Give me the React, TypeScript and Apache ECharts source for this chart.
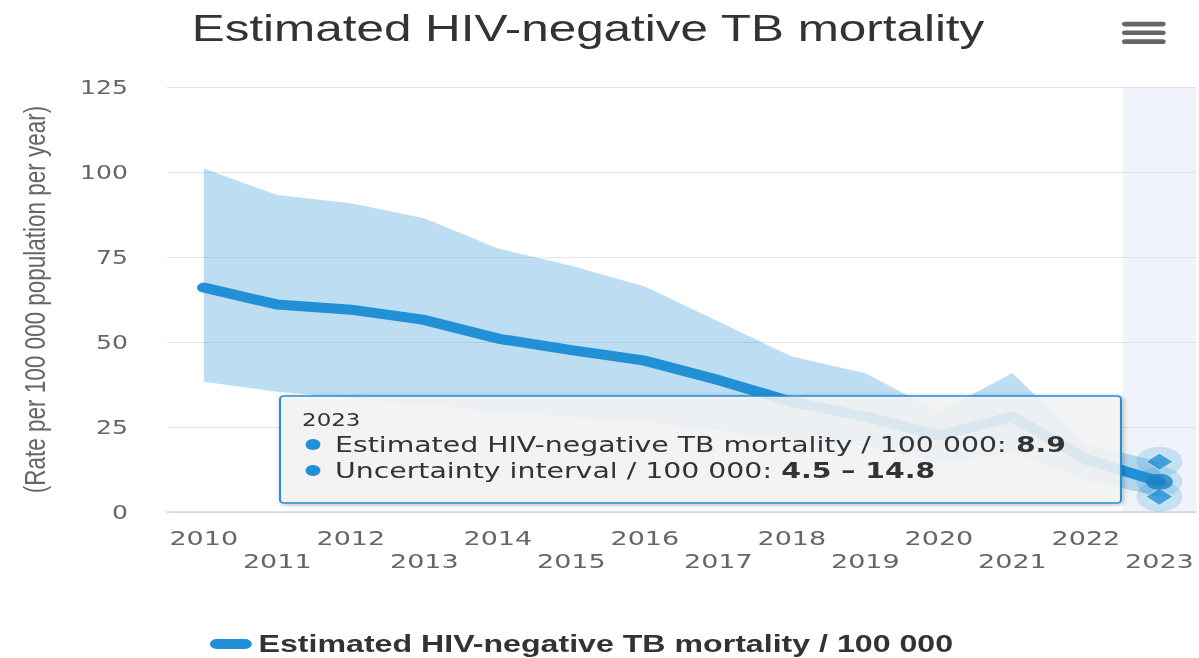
import React, { useEffect, useRef } from 'react';
import * as echarts from 'echarts';

const years = ['2010', '2011', '2012', '2013', '2014', '2015', '2016', '2017', '2018', '2019', '2020', '2021', '2022', '2023'];
const estimate = [66, 61, 59.5, 56.5, 51, 47.6, 44.5, 38.8, 32.4, 28, 22.5, 28, 15.5, 8.9];
const upperBound = [101, 93.2, 90.8, 86.4, 77.5, 72.4, 66.3, 56, 45.7, 40.8, 29.5, 40.8, 20, 14.8];
const lowerBound = [38.3, 35.4, 33.5, 31.5, 29.5, 28, 26.5, 24, 21, 19.5, 14.5, 17.5, 9.5, 4.5];

const TITLE = 'Estimated HIV-negative TB mortality';
const SERIES_NAME = 'Estimated HIV-negative TB mortality / 100 000';
const RANGE_NAME = 'Uncertainty interval / 100 000';
const Y_NAME = '(Rate per 100 000 population per year)';

const INNER_W = 888;
const H = 658;
const SX = 1199 / INNER_W;

const BLUE = '#2190d4';
const ZT = 100;

export default function App() {
  const ref = useRef<HTMLDivElement>(null);

  useEffect(() => {
    if (!ref.current) return;
    const chart = echarts.init(ref.current, undefined, { renderer: 'svg' });
    const last = years.length - 1;
    const diff = upperBound.map((u, i) => +(u - lowerBound[i]).toFixed(2));

    const richStyles = {
      n: { fontFamily: 'DejaVu Sans', fontSize: 21, fill: '#333' },
      v: { fontFamily: 'DejaVu Sans', fontSize: 21, fontWeight: 'bold', fill: '#333' },
    };

    const option: any = {
      animation: false,
      title: {
        text: TITLE,
        left: 137,
        top: 5,
        textStyle: { fontFamily: 'Liberation Sans', fontSize: 36.6, fontWeight: 'normal', color: '#333' },
      },
      legend: {
        data: [SERIES_NAME],
        left: 155.5,
        top: 632,
        padding: 0,
        itemWidth: 31,
        itemHeight: 10,
        icon: 'path://M5,0 L26,0 A5,5 0 0 1 26,10 L5,10 A5,5 0 0 1 5,0 Z',
        textStyle: {
          fontFamily: 'Liberation Sans',
          fontSize: 23.8,
          fontWeight: 'bold',
          color: '#333',
        },
        selectedMode: false,
      },
      grid: { left: 123.7, top: 87, width: 762.2, height: 425, containLabel: false },
      xAxis: {
        type: 'category',
        data: years,
        boundaryGap: true,
        axisLine: { lineStyle: { color: '#ccd6eb', width: 1.5 } },
        axisTick: { show: false },
        axisLabel: {
          interval: 0,
          margin: 14.5,
          lineHeight: 23,
          fontFamily: 'DejaVu Sans',
          fontSize: 20,
          color: '#666',
          formatter: (v: string, i: number) => (i % 2 ? '\n' + v : v),
        },
        axisPointer: {
          show: true,
          type: 'shadow',
          value: last,
          status: 'show',
          z: 0,
          triggerTooltip: false,
          triggerEmphasis: false,
          label: { show: false },
          shadowStyle: { color: 'rgba(204,214,235,0.3)' },
        },
      },
      yAxis: {
        type: 'value',
        min: 0,
        max: 125,
        interval: 25,
        name: Y_NAME,
        nameLocation: 'middle',
        nameRotate: 90,
        nameGap: 86.7,
        nameTextStyle: { fontFamily: 'Liberation Sans', fontSize: 22.5, color: '#666' },
        axisLine: { show: false },
        axisTick: { show: false },
        axisLabel: { margin: 28.9, fontFamily: 'DejaVu Sans', fontSize: 18.6, color: '#666' },
        splitLine: { lineStyle: { color: '#e6e6e6', width: 1 } },
      },
      series: [
        {
          name: 'lower',
          type: 'line',
          data: lowerBound,
          stack: 'ci',
          symbol: 'none',
          lineStyle: { opacity: 0 },
          silent: true,
          z: 1,
        },
        {
          name: RANGE_NAME,
          type: 'line',
          data: diff,
          stack: 'ci',
          symbol: 'none',
          lineStyle: { opacity: 0 },
          areaStyle: { color: 'rgba(33,144,212,0.3)', opacity: 1 },
          silent: true,
          z: 1,
        },
        {
          name: SERIES_NAME,
          type: 'line',
          data: estimate,
          color: BLUE,
          symbol: 'none',
          lineStyle: { width: 10, color: BLUE, cap: 'round', join: 'round' },
          silent: true,
          z: 60,
        },
        {
          name: 'halo',
          type: 'scatter',
          data: [
            [last, upperBound[last]],
            [last, estimate[last]],
            [last, lowerBound[last]],
          ],
          symbol: 'circle',
          symbolSize: [34, 30],
          itemStyle: { color: 'rgba(33,144,212,0.25)' },
          silent: true,
          z: 61,
        },
        {
          name: 'rangeMarkers',
          type: 'scatter',
          data: [
            [last, upperBound[last]],
            [last, lowerBound[last]],
          ],
          symbol: 'diamond',
          symbolSize: [20, 17],
          itemStyle: { color: BLUE, borderColor: 'rgba(255,255,255,0.6)', borderWidth: 1 },
          silent: true,
          z: 62,
        },
        {
          name: 'estMarker',
          type: 'scatter',
          data: [[last, estimate[last]]],
          symbol: 'circle',
          symbolSize: [20, 16],
          itemStyle: { color: '#1c82c6' },
          silent: true,
          z: 62,
        },
      ],
      graphic: [
        { type: 'rect', z: ZT, shape: { x: 831, y: 21.7, width: 32.3, height: 4.7, r: 2.3 }, style: { fill: '#666' } },
        { type: 'rect', z: ZT, shape: { x: 831, y: 30.4, width: 32.3, height: 4.7, r: 2.3 }, style: { fill: '#666' } },
        { type: 'rect', z: ZT, shape: { x: 831, y: 39.3, width: 32.3, height: 4.7, r: 2.3 }, style: { fill: '#666' } },
        {
          type: 'rect',
          z: ZT,
          shape: { x: 207.4, y: 396, width: 622.8, height: 107, r: 3 },
          style: {
            fill: 'rgba(247,247,247,0.85)',
            stroke: BLUE,
            lineWidth: 1.5,
            shadowBlur: 4,
            shadowOffsetX: 1,
            shadowOffsetY: 1,
            shadowColor: 'rgba(0,0,0,0.3)',
          },
        },
        {
          type: 'text',
          z: ZT + 1,
          x: 223.7,
          y: 420,
          style: {
            text: years[last],
            fontFamily: 'DejaVu Sans',
            fontSize: 17,
            fill: '#333',
            verticalAlign: 'middle',
          },
        },
        { type: 'circle', z: ZT + 1, shape: { cx: 231.8, cy: 444.5, r: 5.5 }, style: { fill: BLUE } },
        { type: 'circle', z: ZT + 1, shape: { cx: 231.8, cy: 470.5, r: 5.5 }, style: { fill: BLUE } },
        {
          type: 'text',
          z: ZT + 1,
          x: 248.1,
          y: 444.5,
          style: {
            text: `{n|${SERIES_NAME}: }{v|${estimate[last].toFixed(1)}}`,
            verticalAlign: 'middle',
            rich: richStyles,
          },
        },
        {
          type: 'text',
          z: ZT + 1,
          x: 248.1,
          y: 470.5,
          style: {
            text: `{n|${RANGE_NAME}: }{v|${lowerBound[last].toFixed(1)} – ${upperBound[last].toFixed(1)}}`,
            verticalAlign: 'middle',
            rich: richStyles,
          },
        },
      ],
    };
    chart.setOption(option);
    return () => chart.dispose();
  }, []);

  return (
    <div style={{ position: 'absolute', left: 0, top: 0, width: 1199, height: H, overflow: 'hidden', background: '#fff' }}>
      <div
        ref={ref}
        style={{ width: INNER_W, height: H, transform: `scaleX(${SX})`, transformOrigin: '0 0' }}
      />
    </div>
  );
}
